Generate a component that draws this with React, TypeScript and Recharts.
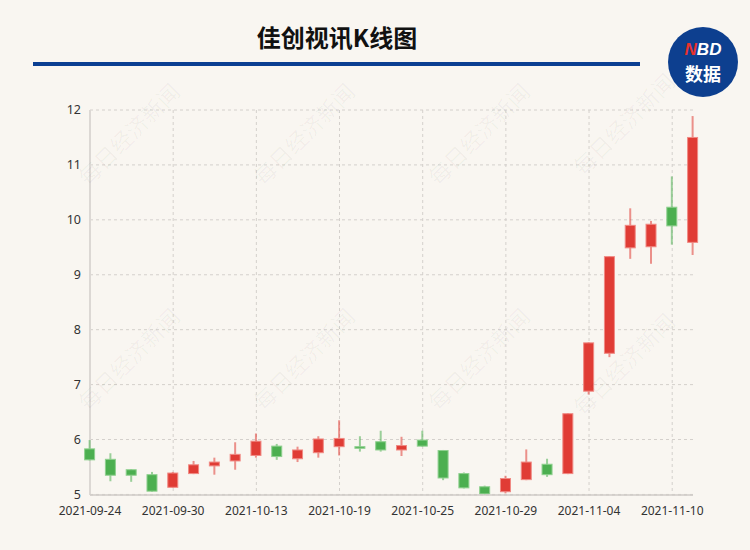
import { ComposedChart, Bar, XAxis, YAxis, CartesianGrid } from 'recharts';

// trading days shown on the chart
const dates = [
  '2021-09-24', '2021-09-27', '2021-09-28', '2021-09-29', '2021-09-30',
  '2021-10-08', '2021-10-11', '2021-10-12', '2021-10-13', '2021-10-14',
  '2021-10-15', '2021-10-18', '2021-10-19', '2021-10-20', '2021-10-21',
  '2021-10-22', '2021-10-25', '2021-10-26', '2021-10-27', '2021-10-28',
  '2021-10-29', '2021-11-01', '2021-11-02', '2021-11-03', '2021-11-04',
  '2021-11-05', '2021-11-08', '2021-11-09', '2021-11-10', '2021-11-11',
];

const opens = [
  5.83, 5.64, 5.45, 5.36, 5.13, 5.38, 5.52, 5.61, 5.71, 5.88,
  5.65, 5.76, 5.87, 5.87, 5.96, 5.81, 5.99, 5.8, 5.38, 5.14,
  5.05, 5.27, 5.55, 5.38, 6.88, 7.57, 9.49, 9.51, 10.23, 9.59,
];
const closes = [
  5.63, 5.35, 5.35, 5.06, 5.39, 5.54, 5.59, 5.73, 5.97, 5.69,
  5.81, 6.01, 6.02, 5.84, 5.81, 5.89, 5.88, 5.3, 5.12, 5.01,
  5.29, 5.59, 5.36, 6.47, 7.76, 9.33, 9.9, 9.92, 9.89, 11.5,
];
const highs = [
  5.99, 5.75, 5.46, 5.41, 5.41, 5.61, 5.67, 5.95, 6.11, 5.92,
  5.87, 6.06, 6.35, 6.06, 6.16, 6.05, 6.16, 5.81, 5.4, 5.16,
  5.34, 5.82, 5.65, 6.48, 7.77, 9.34, 10.21, 9.98, 10.79, 11.89,
];
const lows = [
  5.62, 5.24, 5.23, 5.05, 5.12, 5.37, 5.36, 5.45, 5.67, 5.63,
  5.59, 5.67, 5.71, 5.78, 5.78, 5.7, 5.87, 5.26, 5.11, 4.99,
  5.02, 5.26, 5.32, 5.37, 6.82, 7.5, 9.29, 9.2, 9.55, 9.36,
];

const xTicks = [0, 4, 8, 12, 16, 20, 24, 28];
const yTicks = [5, 6, 7, 8, 9, 10, 11, 12];

const data = dates.map((d, i) => ({
  i,
  date: d,
  open: opens[i],
  close: closes[i],
  high: highs[i],
  low: lows[i],
  range: [lows[i], highs[i]],
}));

const RED = '#e03c35';
const GREEN = '#4caf50';

const Candle = (props: any) => {
  const { x, y, width, height, payload } = props;
  if (x == null || y == null) return null;
  const top = Math.min(y, y + height);
  const h = Math.abs(height);
  const { open, close, high, low } = payload;
  const up = close >= open;
  const ratio = h / (high - low);
  const yOf = (v: number) => top + (high - v) * ratio;
  const bodyTop = yOf(Math.max(open, close));
  const bodyH = Math.max(1.5, Math.abs(yOf(open) - yOf(close)));
  const cx = x + width / 2;
  const color = up ? RED : GREEN;
  return (
    <g>
      <line x1={cx} x2={cx} y1={top} y2={top + h} stroke={color} strokeOpacity={0.55} strokeWidth={2} />
      <rect
        x={x}
        y={bodyTop}
        width={width}
        height={bodyH}
        fill={color}
        stroke={up ? '#f08a84' : '#8fd08f'}
        strokeWidth={1}
      />
    </g>
  );
};

const watermarks = [
  [135, 140], [310, 140], [485, 140], [630, 130],
  [135, 365], [310, 365], [485, 365], [630, 370],
];

export default function App() {
  return (
    <div style={{ position: 'absolute', left: 0, top: 0, width: 750, height: 550, background: '#f9f6f1' }}>
      <ComposedChart
        width={750}
        height={550}
        data={data}
        margin={{ top: 110, right: 57, bottom: 25, left: 30 }}
      >
        <CartesianGrid stroke="#d4d0cc" strokeDasharray="3 3" verticalValues={xTicks.slice(1)} />
        {/* y axis line drawn as grid so the first candle sits above it */}
        <CartesianGrid horizontal={false} verticalValues={[0]} stroke="#dcd8d4" strokeWidth={2} />
        <XAxis
          type="number"
          dataKey="i"
          domain={[0, 29]}
          ticks={xTicks}
          tickFormatter={(v: number) => dates[v]}
          height={30}
          tickLine={false}
          tickSize={0}
          tickMargin={11}
          axisLine={{ stroke: '#cfcbc7', strokeWidth: 1.5 }}
          tick={{ fontSize: 12, fill: '#333', fontFamily: 'Noto Sans' }}
          interval={0}
        />
        <YAxis
          domain={[5, 12]}
          ticks={yTicks}
          width={60}
          tickLine={false}
          tickSize={0}
          tickMargin={9}
          axisLine={false}
          tick={{ fontSize: 12.5, fill: '#333', fontFamily: 'Noto Sans' }}
        />
        <Bar dataKey="range" barSize={10} shape={Candle} isAnimationActive={false} />
      </ComposedChart>
      <svg width={750} height={550} style={{ position: 'absolute', left: 0, top: 0, pointerEvents: 'none' }}>
        {watermarks.map(([wx, wy], k) => (
          <text
            key={k}
            x={wx}
            y={wy}
            transform={`rotate(-45 ${wx} ${wy})`}
            textAnchor="middle"
            fontSize={22}
            fontFamily="Noto Sans CJK SC"
            fill="#000"
            fillOpacity={0.04}
          >
            每日经济新闻
          </text>
        ))}
        <text
          x={337}
          y={47}
          textAnchor="middle"
          fontSize={24}
          fontWeight="bold"
          fontFamily="Noto Sans CJK SC"
          fill="#111"
        >
          佳创视讯K线图
        </text>
        <rect x={33} y={62} width={607} height={4} fill="#0b3f92" />
        <circle cx={703} cy={62} r={35} fill="#0d3f8f" />
        <text x={703} y={55} textAnchor="middle" fontSize={17} fontWeight="bold" fontStyle="italic" fontFamily="Liberation Sans" fill="#fff">
          <tspan fill="#e8322c">N</tspan>BD
        </text>
        <text x={703} y={81} textAnchor="middle" fontSize={18} fontWeight="bold" fontFamily="Noto Sans CJK SC" fill="#fff">
          数据
        </text>
      </svg>
    </div>
  );
}
